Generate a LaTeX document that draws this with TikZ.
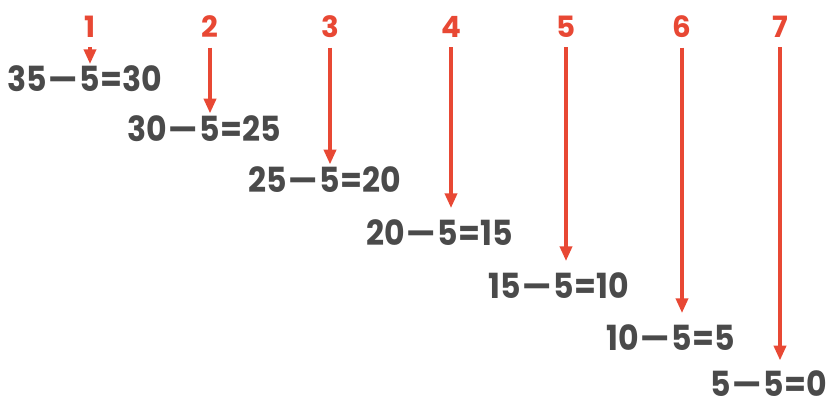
\documentclass[tikz,border=0pt]{standalone}
\usepackage{fontspec}
\setmainfont{Poppins}
\newfontfamily\eqfont[FakeStretch=0.91]{Poppins}
\usetikzlibrary{arrows.meta,positioning}
\definecolor{stepred}{RGB}{232,72,52}
\definecolor{inkgray}{RGB}{74,74,74}

\begin{document}
\begin{tikzpicture}[x=0.75pt, y=-0.75pt,
  num/.style={text=stepred, font=\bfseries\fontsize{22}{23}\selectfont, inner sep=0pt},
  eqn/.style={text=inkgray, font=\eqfont\bfseries\fontsize{26}{28}\selectfont, inner sep=0pt},
  arr/.style={stepred, line width=2.6pt, -{Triangle[length=11pt,width=9pt]}, shorten <=7pt}]
  \useasboundingbox (0,0) rectangle (838,403);
  % one step per column: number, arrow, equation
  \foreach \i/\x/\fx/\y/\a/\b/\g in {1/90/90/79/35/30/1.5, 2/210/210/129/30/25/2,
      3/330/330/180/25/20/2, 4/451/448/233/20/15/9, 5/566/564/286/15/10/9,
      6/682/682/338/10/5/9, 7/780/774/384/5/0/8}{
    \node[num] (n\i) at (\x,27) {\i};
    \node[eqn] (f\i) at (\fx,\y) {5};
    \node[eqn, anchor=base east] (l\i) at (f\i.base west) {\a\kern1pt—\kern1pt};
    \node[eqn, anchor=base west] (r\i) at (f\i.base east) {=\b};
    \draw[arr, shorten >=\g pt] (n\i.south) -- (n\i |- f\i.north);
  }
\end{tikzpicture}
\end{document}
